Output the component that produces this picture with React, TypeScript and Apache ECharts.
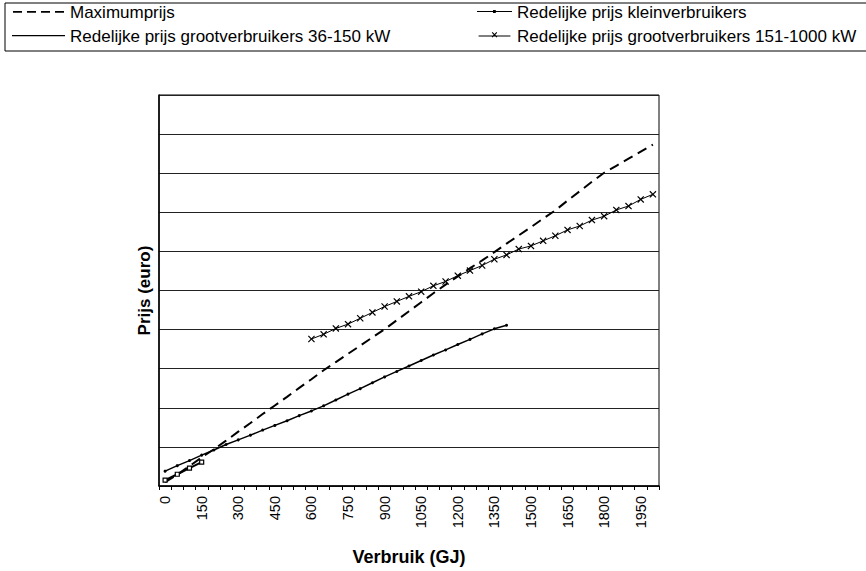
import React, { useEffect, useRef } from "react";
import * as echarts from "echarts";

const categories = [
  "0", "50", "100", "150", "200", "250", "300", "350", "400", "450",
  "500", "550", "600", "650", "700", "750", "800", "850", "900", "950",
  "1000", "1050", "1100", "1150", "1200", "1250", "1300", "1350", "1400", "1450",
  "1500", "1550", "1600", "1650", "1700", "1750", "1800", "1850", "1900", "1950",
  "2000",
];

const maximumprijs = [
  100, 290, 510, 730, 940, 1160, 1390, 1610, 1840, 2060,
  2280, 2510, 2730, 2960, 3170, 3380, 3590, 3800, 4010, 4240,
  4470, 4700, 4930, 5150, 5360, 5570, 5770, 5980, 6200, 6410,
  6620, 6840, 7050, 7300, 7540, 7780, 8010, 8190, 8370, 8550,
  8730,
];

const kleinverbruikers = [150, 300, 455, 610];

const groot36_150 = [
  380, 520, 650, 790, 920, 1060, 1180, 1300, 1430, 1550,
  1670, 1800, 1920, 2050, 2200, 2350, 2490, 2640, 2790, 2930,
  3070, 3210, 3350, 3480, 3620, 3750, 3890, 4020, 4110,
];

const groot151_1000 = [
  null, null, null, null, null, null, null, null, null, null,
  null, null, 3760, 3880, 4030, 4140, 4290, 4440, 4590, 4720,
  4850, 4970, 5120, 5230, 5380, 5510, 5640, 5800, 5910, 6060,
  6140, 6270, 6400, 6550, 6650, 6800, 6900, 7060, 7160, 7330,
  7460,
];

const seriesNames = [
  "Maximumprijs",
  "Redelijke prijs kleinverbruikers",
  "Redelijke prijs grootverbruikers 36-150 kW",
  "Redelijke prijs grootverbruikers 151-1000 kW",
];

const FONT = "'Liberation Sans', Arial, sans-serif";
const X_SYMBOL =
  "path://M0,1.2L1.2,0L5,3.8L8.8,0L10,1.2L6.2,5L10,8.8L8.8,10L5,6.2L1.2,10L0,8.8L3.8,5Z";
const ICON_DASHED =
  "path://M0,0h9v1.8h-9zM14,0h9v1.8h-9zM28,0h9v1.8h-9zM42,0h9v1.8h-9zM51,-3h0.01v8h-0.01z";
const ICON_SOLID = "path://M0,0h53v1.3h-53zM53,-3h0.01v8h-0.01z";
const ICON_KLEIN =
  "path://M0,0h35v1.1h-35zM16,-0.9h2.8v2.9h-2.8zM35,-3h0.01v8h-0.01z";
const ICON_X =
  "path://M0,0h35v1.1h-35zM14.5,-2.9L15.4,-3.8L17.5,-1.7L19.6,-3.8L20.5,-2.9L18.4,-0.8L20.5,1.3L19.6,2.2L17.5,0.1L15.4,2.2L14.5,1.3L16.6,-0.8zM35,-3h0.01v8h-0.01z";

export default function App() {
  const ref = useRef<HTMLDivElement>(null);

  useEffect(() => {
    if (!ref.current) return;
    const chart = echarts.init(ref.current, undefined, { renderer: "svg" });
    const legendText = {
      fontFamily: FONT,
      fontSize: 17,
      lineHeight: 18,
      color: "#000",
    };
    const iconStyle = { color: "#000", borderWidth: 0 };
    const option = {
      animation: false,
      backgroundColor: "#ffffff",
      textStyle: { fontFamily: FONT, color: "#000" },
      graphic: [
        {
          type: "rect",
          shape: { x: 5, y: 3, width: 900, height: 48 },
          style: { fill: "none", stroke: "#000", lineWidth: 1 },
          silent: true,
        },
      ],
      legend: [
        {
          left: 12,
          top: 3,
          padding: 0,
          orient: "vertical",
          itemWidth: 53,
          itemHeight: 8,
          itemGap: 6,
          selectedMode: false,
          data: [
            { name: seriesNames[0], icon: ICON_DASHED, itemStyle: iconStyle },
            { name: seriesNames[2], icon: ICON_SOLID, itemStyle: iconStyle },
          ],
          itemStyle: iconStyle,
          textStyle: legendText,
        },
        {
          left: 477,
          top: 3,
          padding: 0,
          orient: "vertical",
          itemWidth: 35,
          itemHeight: 8,
          itemGap: 6,
          selectedMode: false,
          data: [
            { name: seriesNames[1], icon: ICON_KLEIN, itemStyle: iconStyle },
            { name: seriesNames[3], icon: ICON_X, itemStyle: iconStyle },
          ],
          itemStyle: iconStyle,
          textStyle: legendText,
        },
      ],
      grid: {
        left: 159,
        top: 95,
        width: 500,
        height: 394,
        show: true,
        borderColor: "#000",
        borderWidth: 1,
        backgroundColor: "#fff",
      },
      xAxis: {
        type: "category",
        data: categories,
        boundaryGap: true,
        name: "Verbruik (GJ)",
        nameLocation: "middle",
        nameGap: 62,
        nameTextStyle: { fontFamily: FONT, fontSize: 18, fontWeight: "bold", color: "#000" },
        axisLine: { show: true, lineStyle: { color: "#000", width: 1.5 } },
        axisTick: { show: true, interval: 0, length: 4, lineStyle: { color: "#000" } },
        axisLabel: {
          interval: 2,
          rotate: 90,
          fontFamily: FONT,
          fontSize: 14.5,
          color: "#000",
          margin: 10,
        },
        splitLine: { show: false },
      },
      yAxis: {
        type: "value",
        min: 0,
        max: 10000,
        interval: 1000,
        name: "Prijs (euro)",
        nameLocation: "middle",
        nameGap: 6,
        nameTextStyle: { fontFamily: FONT, fontSize: 17, fontWeight: "bold", color: "#000" },
        axisLine: { show: true, lineStyle: { color: "#000", width: 1.5 } },
        axisTick: { show: false },
        axisLabel: { show: false },
        splitLine: { show: true, lineStyle: { color: "#222", width: 1 } },
      },
      series: [
        {
          name: seriesNames[0],
          type: "line",
          data: maximumprijs,
          showSymbol: false,
          symbol: "none",
          lineStyle: { color: "#000", width: 2, type: [10, 6] },
          itemStyle: { color: "#000" },
        },
        {
          name: seriesNames[1],
          type: "line",
          data: kleinverbruikers,
          symbol: "rect",
          symbolSize: 4,
          lineStyle: { color: "#000", width: 2 },
          itemStyle: { color: "#fff", borderColor: "#000", borderWidth: 1.2 },
        },
        {
          name: seriesNames[2],
          type: "line",
          data: groot36_150,
          symbol: "circle",
          symbolSize: 3,
          lineStyle: { color: "#000", width: 1.5 },
          itemStyle: { color: "#000" },
        },
        {
          name: seriesNames[3],
          type: "line",
          data: groot151_1000,
          symbol: X_SYMBOL,
          symbolSize: 7,
          connectNulls: false,
          lineStyle: { color: "#000", width: 1 },
          itemStyle: { color: "#000" },
        },
      ],
    };
    chart.setOption(option as any);
    return () => chart.dispose();
  }, []);

  return (
    <div
      ref={ref}
      style={{ position: "absolute", left: 0, top: 0, width: 866, height: 571 }}
    />
  );
}
